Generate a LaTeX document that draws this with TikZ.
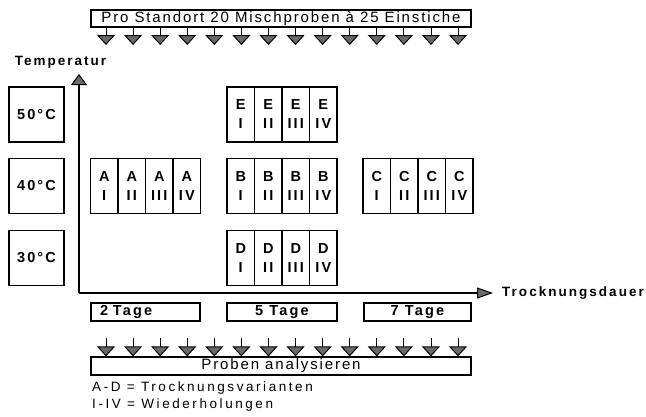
\documentclass[tikz,border=0pt]{standalone}
\usepackage{fontspec}
\setmainfont{Liberation Sans}
\newfontfamily\wideR[LetterSpace=12.5]{Liberation Sans}
\newfontfamily\wideL[LetterSpace=19]{Liberation Sans}
\newfontfamily\wideB[LetterSpace=15]{Liberation Sans}
\usepackage{tikz}
\usetikzlibrary{arrows.meta,positioning,calc}
\definecolor{tipgray}{RGB}{105,105,105}

\begin{document}
\begin{tikzpicture}[x=1pt, y=-1pt,
    probe/.style={line width=0.9pt, -{Triangle[length=10pt,width=18pt,fill=tipgray,line width=1pt]}},
    longbox/.style={draw, line width=1.2pt, minimum width=380pt, minimum height=17pt, inner sep=0pt,
      font=\wideR\fontsize{15}{17}\selectfont},
    tempbox/.style={draw, line width=1.2pt, minimum width=55pt, minimum height=55pt, inner sep=0pt,
      font=\wideB\bfseries\fontsize{14.5}{17}\selectfont},
    cell/.style={draw, line width=1.2pt, minimum width=27.5pt, minimum height=55pt, inner sep=0pt,
      align=center, font=\wideB\bfseries\fontsize{14.5}{19}\selectfont},
    daybox/.style={draw, line width=1.2pt, minimum height=18pt, inner sep=0pt,
      font=\wideB\bfseries\fontsize{14.5}{17}\selectfont},
    axislabel/.style={inner sep=0pt, font=\wideB\bfseries\fontsize{13.5}{16}\selectfont},
    legend/.style={anchor=west, inner sep=0pt, font=\wideL\fontsize{13.5}{16}\selectfont}]
  \useasboundingbox (0,0) rectangle (646,416);
  % Samples per site
  \node[longbox] (stand) at (281,18.5) {Pro Standort 20 Mischproben à 25 Einstiche};
  \foreach \i in {0,...,13} {
    \coordinate (in\i) at (106+27.08*\i,45);
    \draw[probe] (stand.south -| in\i) -- (in\i);
  }
  % Axes
  \coordinate (origin) at (79,293);
  \coordinate (ytip) at (79,74);
  \coordinate (xtip) at (493,293);
  \draw[line width=2pt, -{Triangle[length=11pt,width=16pt,fill=tipgray,line width=1pt]}] (origin) -- (ytip);
  \draw[line width=2pt, -{Triangle[length=16pt,width=11pt,fill=tipgray,line width=1pt]}] (origin) -- (xtip);
  \node[axislabel] (ylab) at (60.5,62) {Temperatur};
  \node[axislabel, right=9pt of xtip] (xlab) {Trocknungsdauer};
  % Temperatures
  \node[tempbox] (t50) at (36.5,114.5) {50°C};
  \node[tempbox] (t40) at (36.5,186) {40°C};
  \node[tempbox] (t30) at (36.5,258) {30°C};
  % Variants with repetitions
  \foreach \g/\gx/\gy in {A/145.5/186, B/282/186, C/418/186, D/282/258, E/282/114.5}
    \foreach \r [count=\k from 0] in {I,II,III,IV}
      \node[cell] (\g\r) at (\gx-41.25+27.5*\k,\gy) {\g\\\r};
  % Drying time
  \node[daybox, minimum width=109pt, text width=109pt, align=left] (day2) at (145.5,312) {\hspace*{9pt}2 Tage};
  \node[daybox, minimum width=110pt] (day5) at (282,312) {5 Tage};
  \node[daybox, minimum width=107pt] (day7) at (417.5,312) {7 Tage};
  % Analysis
  \node[longbox, minimum height=18pt] (analyse) at (281,366) {Proben analysieren};
  \foreach \i in {0,...,13} {
    \coordinate (out\i) at (106+27.08*\i,338);
    \draw[probe] (out\i) -- (out\i |- analyse.north);
  }
  % Legend
  \node[legend] (leg1) at (92,388) {A-D = Trocknungsvarianten};
  \node[legend] (leg2) at (92,405) {I-IV = Wiederholungen};
\end{tikzpicture}
\end{document}
